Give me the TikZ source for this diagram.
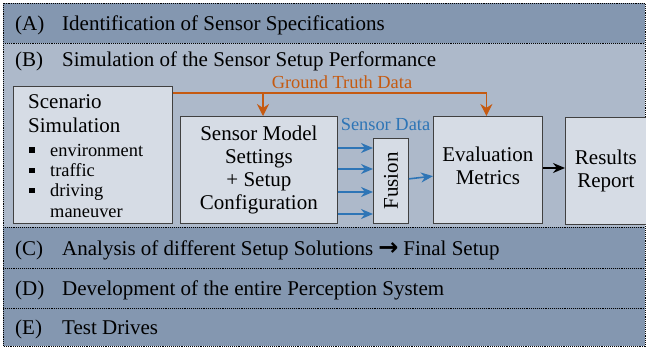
\documentclass[tikz,border=0pt]{standalone}
\usepackage{fontspec}
\setmainfont{Liberation Serif}
\newfontfamily\arrowfont{DejaVu Sans}
\usetikzlibrary{arrows.meta,positioning}
\definecolor{banddark}{HTML}{8497B0}
\definecolor{bandlight}{HTML}{ADB9CA}
\definecolor{boxfill}{HTML}{D6DCE5}
\definecolor{gtorange}{HTML}{C55A11}
\definecolor{sdblue}{HTML}{2E75B6}

\begin{document}
\begin{tikzpicture}
    % unit = 1px of the layout, y grows downwards
    [x=1pt, y=-1pt,
    bigfont/.style={font=\fontsize{21}{23}\selectfont},
    smallfont/.style={font=\fontsize{18.4}{20.3}\selectfont},
    box/.style={draw=black!75, line width=0.8pt, fill=boxfill, align=center, inner sep=0pt, bigfont},
    sepline/.style={draw=black, line width=0.9pt, densely dotted},
    gtline/.style={draw=gtorange, line width=1.6pt},
    gtarrow/.style={gtline, -{Stealth[length=12pt,width=12pt]}},
    sdarrow/.style={draw=sdblue, line width=1.6pt, -{Stealth[length=12pt,width=10pt]}},
    blkarrow/.style={draw=black, line width=1.6pt, -{Stealth[length=12pt,width=10pt]}}]

    \useasboundingbox (0,0) rectangle (646,349);

    % Hintergrund der Phasen A bis E
    \fill[banddark] (3,3) rectangle (645,43);
    \fill[bandlight] (3,43) rectangle (645,227);
    \fill[banddark] (3,227) rectangle (645,346);

    % Trennlinien
    \foreach \y in {43,227,268,308}
        \draw[sepline] (3,\y) -- (645,\y);
    \draw[sepline] (3,3) rectangle (645,346);

    % Phasen-Titel
    \foreach \l/\t/\y in {A/Identification of Sensor Specifications/30,
                          B/Simulation of the Sensor Setup Performance/66,
                          C/{Analysis of different Setup Solutions\hspace{5pt}{\arrowfont\bfseries\fontsize{24}{24}\selectfont →}\hspace{5pt}Final Setup}/255,
                          D/Development of the entire Perception System/295,
                          E/Test Drives/334}{
        \node[bigfont, anchor=base west, inner sep=0pt] (lab_\l) at (15,\y) {(\l)};
        \node[bigfont, anchor=base west, inner sep=0pt] (tit_\l) at (62,\y) {\t};
    }

    % Bloecke der Simulation
    \node[box, anchor=north west, minimum width=159pt, minimum height=137pt] (scen) at (13,86) {};
    \node[box, anchor=north west, minimum width=157pt, minimum height=107pt] (sens) at (180,116)
        {Sensor Model\\Settings\\+ Setup\\Configuration};
    \node[box, anchor=north west, minimum width=35pt, minimum height=85pt] (fus) at (373,138)
        {\rotatebox{90}{Fusion}};
    \node[box, anchor=north west, minimum width=109pt, minimum height=107pt] (eval) at (433,116) {};
    \node[bigfont, align=center, inner sep=0pt] (eval_txt) at ([yshift=4pt]eval.center) {Evaluation\\Metrics};
    \node[box, anchor=north west, minimum width=81pt, minimum height=107pt] (res) at (565,117)
        {Results\\Report};

    % Inhalt Szenario
    \node[bigfont, anchor=base west, inner sep=0pt] (scen_1) at (28,108.5) {Scenario};
    \node[bigfont, anchor=base west, inner sep=0pt] (scen_2) at (28,132) {Simulation};
    \foreach \t [count=\i] in {environment,traffic,driving,maneuver}
        \node[smallfont, anchor=base west, inner sep=0pt] (item_\i) at (50,136+20.3*\i) {\t};
    \foreach \i in {1,2,3}
        \fill (item_\i.base west) ++(-21,-3.5) rectangle ++(5.5,-5.5);

    % Ground Truth Data
    \coordinate (gt_split) at (263,93);
    \draw[gtarrow] ([yshift=-7pt]scen.north east) -| ([xshift=-1.5pt]eval.north);
    \draw[gtarrow] (gt_split) -- (gt_split |- sens.north);
    \node[smallfont, text=gtorange, anchor=base, inner sep=0pt] (gt_lab) at (342,88) {Ground Truth Data};

    % Sensor Data
    \foreach \y in {148,169,192,214}
        \draw[sdarrow] (sens.east |- 0,\y) -- (fus.west |- 0,\y);
    \node[smallfont, text=sdblue, anchor=base, inner sep=0pt] (sd_lab) at (385.5,130) {Sensor Data};
    \draw[sdarrow] (fus) -- (eval);

    % Auswertung
    \draw[blkarrow] (eval.east |- 0,168) -- (res.west |- 0,168);
\end{tikzpicture}
\end{document}
